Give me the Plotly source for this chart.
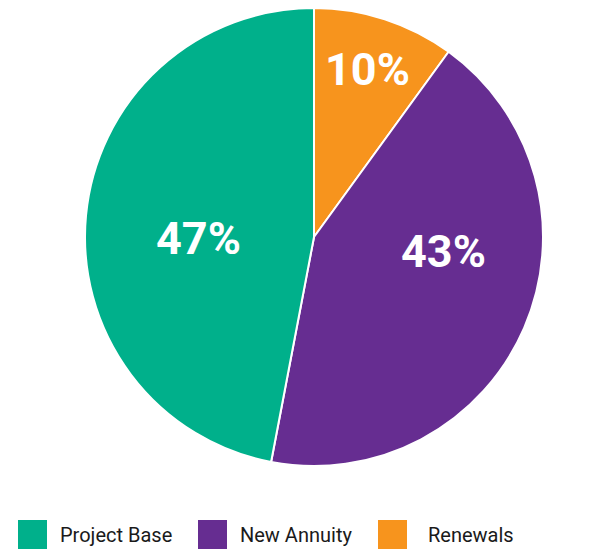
import plotly.graph_objects as go

# Share of the portfolio by segment (percent)
labels = ["Project Base", "New Annuity", "Renewals"]
values = [47, 43, 10]
colors = ["#00B08B", "#662D91", "#F7941D"]

# Page size and pixel positions for the percentage labels and legend
W, H = 594, 551
label_px = [(199, 239), (443, 251), (367, 69)]
legend_square_x = [18, 198, 378]
legend_text_x = [58, 238, 426]

# Slices run clockwise from 12 o'clock: Renewals, New Annuity, Project Base
order = [2, 1, 0]
fig = go.Figure(
    go.Pie(
        labels=[labels[i] for i in order],
        values=[values[i] for i in order],
        sort=False,
        direction="clockwise",
        rotation=0,
        marker=dict(colors=[colors[i] for i in order],
                    line=dict(color="white", width=2)),
        textinfo="none",
        hoverinfo="label+percent",
        showlegend=False,
        domain=dict(x=[(314 - 229) / W, (314 + 229) / W],
                    y=[1 - 466 / H, 1 - 8 / H]),
    )
)

shapes = []
annotations = []

# Percentage labels inside each slice
for v, (px, py) in zip(values, label_px):
    annotations.append(dict(
        text=f"{v}%", xref="paper", yref="paper",
        x=px / W, y=1 - py / H, xanchor="center", yanchor="middle",
        showarrow=False,
        font=dict(family="Roboto", size=45, color="white", weight="bold"),
    ))

# Custom legend: coloured squares with labels beneath the pie
for lab, col, sx, tx in zip(labels, colors, legend_square_x, legend_text_x):
    shapes.append(dict(
        type="rect", xref="paper", yref="paper",
        x0=sx / W, x1=(sx + 29) / W,
        y0=1 - 549 / H, y1=1 - 520 / H,
        fillcolor=col, line=dict(width=0),
    ))
    annotations.append(dict(
        text=lab, xref="paper", yref="paper",
        x=tx / W, y=1 - 535 / H, xanchor="left", yanchor="middle",
        showarrow=False,
        font=dict(family="Roboto", size=20, color="#1a1a1a"),
    ))

fig.update_layout(
    width=W, height=H,
    margin=dict(l=0, r=0, t=0, b=0),
    paper_bgcolor="white",
    plot_bgcolor="white",
    shapes=shapes,
    annotations=annotations,
)

fig.write_html("out.html")
